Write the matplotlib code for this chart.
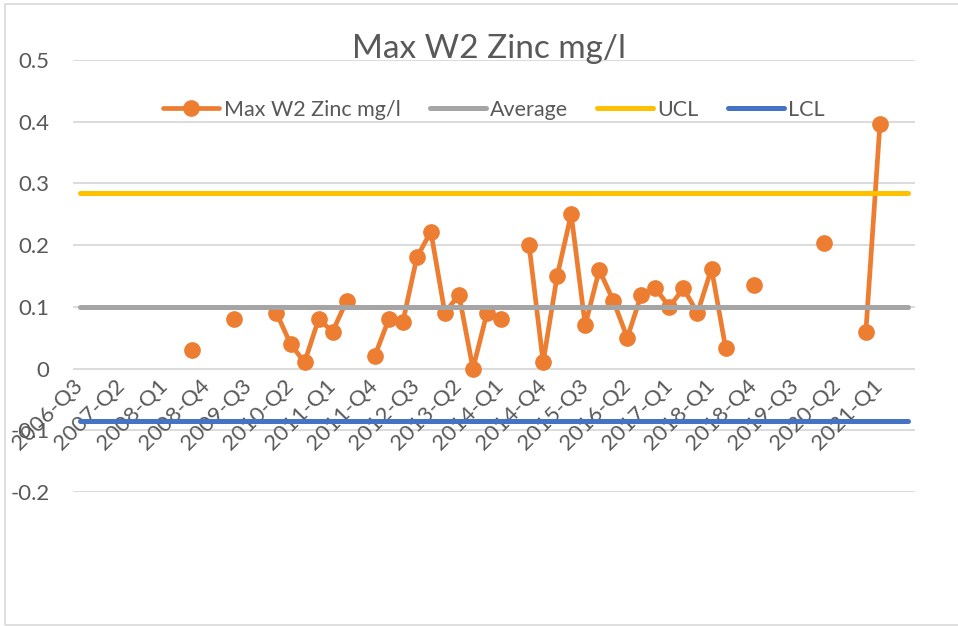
import numpy as np
import matplotlib
matplotlib.use("Agg")
import matplotlib.pyplot as plt
from matplotlib.patches import Rectangle

plt.rcParams['font.family'] = ['Lato', 'DejaVu Sans']

# quarterly categories, 2017-Q4 has no row in the sheet
quarters = [f"{y}-Q{q}" for y in range(2006, 2022) for q in range(1, 5)]
quarters = [s for s in quarters if "2006-Q3" <= s <= "2021-Q3" and s != "2017-Q4"]

zinc = [
    None, None, None, None, None, None, None, None, 0.03, None,
    None, 0.08, None, None, 0.09, 0.04, 0.01, 0.08, 0.06, 0.11,
    None, 0.02, 0.08, 0.075, 0.18, 0.222, 0.09, 0.12, 0.0, 0.09,
    0.08, None, 0.2, 0.01, 0.15, 0.25, 0.07, 0.16, 0.11, 0.05,
    0.12, 0.13, 0.10, 0.13, 0.09, 0.162, 0.034, None, 0.136, None,
    None, None, None, 0.204, None, None, 0.06, 0.396, None, None,
]
average = 0.1
ucl = 0.285
lcl = -0.085

TXT = '#595959'
GRID = '#d9d9d9'


def main():
    fig = plt.figure(figsize=(9.58, 6.26), dpi=100)
    ax = fig.add_axes([73 / 958, 1 - 492 / 626, 842 / 958, 432 / 626])

    x = np.arange(len(quarters))
    y = np.array([np.nan if v is None else v for v in zinc])

    ax.plot(x, y, color='#ED7D31', lw=3.4, marker='o', ms=11,
            solid_capstyle='round', label='Max W2 Zinc mg/l')
    ax.plot(x, np.full(len(x), average), color='#A5A5A5', lw=3.6,
            solid_capstyle='round', label='Average')
    ax.plot(x, np.full(len(x), ucl), color='#FFC000', lw=3.6,
            solid_capstyle='round', label='UCL')
    ax.plot(x, np.full(len(x), lcl), color='#4472C4', lw=3.6,
            solid_capstyle='round', label='LCL')

    ax.set_xlim(-0.5, len(x) - 0.5)
    ax.set_ylim(-0.2, 0.5)
    yt = np.arange(-0.2, 0.51, 0.1)
    ax.set_yticks(yt)
    ax.set_yticklabels([f"{v:g}" if abs(v) > 1e-9 else "0" for v in yt])
    for v in yt:
        ax.axhline(v, color=GRID, lw=1.3, zorder=0)

    # category labels sit on the zero line
    ax.spines['bottom'].set_position(('data', 0))
    for s in ax.spines.values():
        s.set_visible(False)
    ticks = x[::3]
    ax.set_xticks(ticks)
    ax.set_xticklabels([quarters[i] for i in ticks], rotation=45,
                       ha='right', va='center', rotation_mode='anchor')
    ax.tick_params(axis='x', length=0, pad=10, labelsize=16, labelcolor=TXT)
    ax.tick_params(axis='y', length=0, pad=17, labelsize=16, labelcolor=TXT)

    fig.text(489 / 958, 1 - 58 / 626, 'Max W2 Zinc mg/l', ha='center',
             va='baseline', fontsize=24, color=TXT)

    fig.legend(loc='center', bbox_to_anchor=(494 / 958, 1 - 110 / 626),
               ncol=4, frameon=False, fontsize=15.5, labelcolor=TXT,
               handlelength=2.6, handletextpad=0.2, columnspacing=1.35)

    fig.patches.append(Rectangle((5 / 958, 1 / 626), 1.0, 1 - 5 / 626,
                                 transform=fig.transFigure, fill=False,
                                 edgecolor=GRID, lw=1.2))

    fig.savefig('out.png', dpi=100)


if __name__ == '__main__':
    main()
